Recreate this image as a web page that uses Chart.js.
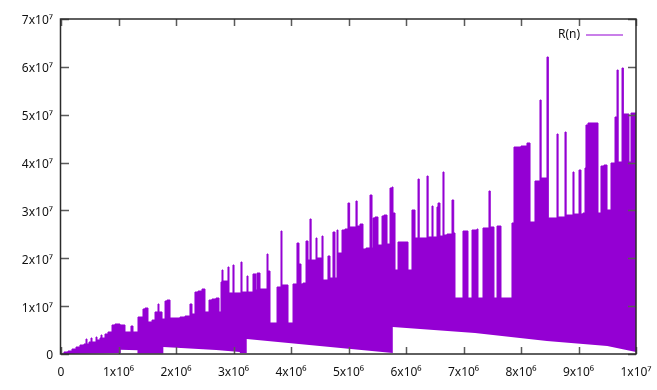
<!DOCTYPE html>
<html>
<head>
<meta charset="utf-8">
<script src="https://cdn.jsdelivr.net/npm/chart.js@4.4.1/dist/chart.umd.min.js"></script>
<style>
  html, body { margin: 0; padding: 0; background: #fff; }
  #wrap { width: 657px; height: 390px; }
</style>
</head>
<body>
<div id="wrap"><canvas id="chart"></canvas></div>
<script>
"use strict";

// values in millions: [n, R(n)]
const UNIT = 1e6;

// upper edge of the R(n) band (step holds until next n)
const upperEdge = [
    [0, 0], [0.052, 0.42], [0.122, 0.63], [0.191, 1.04], [0.261, 1.46], [0.330, 1.88],
    [0.400, 2.09], [0.435, 3.13], [0.452, 2.09], [0.487, 2.51], [0.522, 3.34], [0.539, 2.51],
    [0.609, 3.55], [0.626, 2.93], [0.678, 3.34], [0.696, 3.97], [0.713, 3.34], [0.765, 4.18],
    [0.817, 4.60], [0.887, 6.06], [0.939, 6.27], [1.026, 6.06], [1.113, 4.60], [1.217, 5.85],
    [1.252, 4.60], [1.339, 7.73], [1.426, 9.40], [1.461, 9.61], [1.513, 6.69], [1.583, 7.10],
    [1.635, 8.78], [1.687, 10.45], [1.704, 8.78], [1.757, 7.31], [1.809, 11.07], [1.843, 11.28],
    [1.896, 7.52], [2.070, 7.73], [2.157, 7.94], [2.243, 10.45], [2.278, 8.36], [2.330, 12.95],
    [2.383, 13.16], [2.452, 13.58], [2.504, 8.78], [2.574, 11.28], [2.626, 11.49], [2.696, 11.70],
    [2.748, 8.78], [2.783, 15.04], [2.800, 17.55], [2.817, 15.25], [2.904, 18.18], [2.922, 12.75],
    [2.991, 18.60], [3.009, 12.75], [3.130, 19.22], [3.148, 12.95], [3.235, 16.30], [3.252, 12.95],
    [3.339, 16.72], [3.391, 13.37], [3.409, 16.92], [3.461, 13.58], [3.583, 20.89], [3.600, 17.34],
    [3.635, 6.48], [3.757, 14.00], [3.826, 25.70], [3.843, 14.42], [3.948, 6.48], [4.035, 14.63],
    [4.104, 23.19], [4.139, 18.80], [4.174, 14.63], [4.209, 14.83], [4.261, 23.61], [4.296, 19.64],
    [4.330, 28.21], [4.350, 19.64], [4.435, 24.24], [4.452, 20.06], [4.539, 24.65], [4.557, 15.46],
    [4.643, 20.48], [4.678, 15.88], [4.730, 25.49], [4.765, 15.88], [4.800, 25.91], [4.817, 21.10],
    [4.887, 25.91], [4.939, 26.12], [4.991, 31.55], [5.020, 26.54], [5.130, 31.97], [5.150, 26.74],
    [5.200, 27.16], [5.252, 21.94], [5.304, 22.15], [5.374, 33.22], [5.409, 22.15], [5.426, 28.42],
    [5.461, 28.63], [5.513, 22.77], [5.583, 28.83], [5.617, 29.04], [5.670, 22.98], [5.722, 34.68],
    [5.757, 34.89], [5.774, 29.46], [5.809, 17.55], [5.861, 23.40], [6.035, 17.55], [6.104, 30.09],
    [6.157, 24.24], [6.209, 36.56], [6.230, 24.24], [6.365, 37.19], [6.385, 24.45], [6.452, 30.92],
    [6.470, 24.45], [6.539, 30.71], [6.557, 31.55], [6.591, 24.65], [6.643, 38.03], [6.661, 24.86],
    [6.713, 25.07], [6.800, 32.18], [6.830, 25.28], [6.852, 11.70], [6.991, 25.70], [7.078, 11.70],
    [7.148, 25.91], [7.235, 26.12], [7.252, 11.70], [7.339, 26.33], [7.443, 34.06], [7.465, 26.54],
    [7.530, 11.70], [7.583, 26.74], [7.652, 11.70], [7.843, 27.37], [7.878, 43.25], [8.000, 43.46],
    [8.104, 44.09], [8.157, 27.58], [8.243, 36.15], [8.330, 53.07], [8.350, 36.77], [8.452, 62.06],
    [8.475, 28.42], [8.626, 45.97], [8.645, 28.63], [8.765, 46.38], [8.785, 29.04], [8.904, 38.03],
    [8.922, 29.25], [9.009, 38.45], [9.043, 29.25], [9.078, 29.46], [9.113, 38.86], [9.130, 47.85],
    [9.165, 48.27], [9.339, 29.46], [9.391, 39.28], [9.443, 39.49], [9.496, 30.09], [9.565, 39.91],
    [9.635, 49.52], [9.670, 59.34], [9.690, 40.12], [9.757, 59.76], [9.780, 50.15], [9.878, 40.12],
    [9.913, 50.35], [10.0, 50.35]
];

// lower edge of the band
const lowerEdge = [
    [0, 0], [1.04, 0.2], [1.04, 0.9], [1.33, 0.8], [1.33, 0.1], [1.78, 0.1], [1.78, 1.46],
    [2.70, 0.84], [3.11, 0.42], [3.11, 0.2], [3.23, 0.2], [3.23, 3.13], [5.77, 0.2],
    [5.77, 5.64], [7.2, 4.4], [8.45, 2.72], [9.5, 1.67], [10, 0.42]
];

const xTicks = [0, 1e6, 2e6, 3e6, 4e6, 5e6, 6e6, 7e6, 8e6, 9e6, 1e7];
const yTicks = [0, 1e7, 2e7, 3e7, 4e7, 5e7, 6e7, 7e7];
const seriesLabel = "R(n)";

const PURPLE = "#9400d3";
const SUP = { "0": "⁰", "1": "¹", "2": "²", "3": "³", "4": "⁴", "5": "⁵", "6": "⁶", "7": "⁷", "8": "⁸", "9": "⁹" };

function sciLabel(v) {
    if (v === 0) return "0";
    const e = Math.floor(Math.log10(v) + 1e-9);
    const m = Math.round(v / Math.pow(10, e));
    return m + "x10" + String(e).split("").map(c => SUP[c]).join("");
}

const toPts = arr => arr.map(p => ({ x: p[0] * UNIT, y: p[1] * UNIT }));

// gnuplot style frame: border, inward ticks on all four sides, key at top right
const gnuplotFrame = {
    id: "gnuplotFrame",
    afterDatasetsDraw(chart) {
        const { ctx, chartArea: a, scales } = chart;
        ctx.save();
        ctx.strokeStyle = "#5a5a5a";
        ctx.lineWidth = 1.5;
        ctx.beginPath();
        xTicks.forEach(v => {
            const px = Math.round(scales.x.getPixelForValue(v)) + 0.5;
            ctx.moveTo(px, a.bottom); ctx.lineTo(px, a.bottom - 7);
            ctx.moveTo(px, a.top); ctx.lineTo(px, a.top + 7);
        });
        yTicks.forEach(v => {
            const py = Math.round(scales.y.getPixelForValue(v)) + 0.5;
            ctx.moveTo(a.left, py); ctx.lineTo(a.left + 8, py);
            ctx.moveTo(a.right, py); ctx.lineTo(a.right - 8, py);
        });
        ctx.stroke();

        ctx.strokeStyle = "#2b2b2b";
        ctx.lineWidth = 1.5;
        ctx.strokeRect(a.left - 0.5, a.top, a.right - a.left + 0.5, a.bottom - a.top);

        // key
        ctx.font = "12px 'Noto Sans', 'DejaVu Sans', sans-serif";
        ctx.fillStyle = "#111";
        ctx.textAlign = "right";
        ctx.textBaseline = "middle";
        ctx.fillText(seriesLabel, a.right - 56, a.top + 16);
        ctx.strokeStyle = "rgba(148,0,211,0.5)";
        ctx.lineWidth = 2;
        ctx.beginPath();
        ctx.moveTo(a.right - 50, a.top + 16);
        ctx.lineTo(a.right - 13, a.top + 16);
        ctx.stroke();
        ctx.restore();
    }
};

Chart.defaults.font.family = "'Noto Sans', 'DejaVu Sans', sans-serif";
Chart.defaults.font.size = 12;
Chart.defaults.color = "#111";

new Chart(document.getElementById("chart"), {
    type: "line",
    data: {
        datasets: [
            {
                label: "lower",
                data: toPts(lowerEdge),
                borderWidth: 0,
                pointRadius: 0,
                fill: false
            },
            {
                label: seriesLabel,
                data: toPts(upperEdge),
                stepped: true,
                borderColor: PURPLE,
                borderWidth: 1,
                backgroundColor: PURPLE,
                pointRadius: 0,
                fill: 0
            }
        ]
    },
    options: {
        responsive: true,
        maintainAspectRatio: false,
        animation: false,
        events: [],
        layout: { padding: { left: 0, top: 19, right: 21, bottom: 0 } },
        plugins: { legend: { display: false }, tooltip: { enabled: false } },
        scales: {
            x: {
                type: "linear",
                min: 0, max: 1e7,
                afterFit: s => { s.height = 36; s.paddingLeft = 0; s.paddingRight = 0; },
                afterBuildTicks: s => { s.ticks = xTicks.map(v => ({ value: v })); },
                grid: { display: false, drawTicks: false },
                border: { display: false },
                ticks: { padding: 11, maxRotation: 0, autoSkip: false, callback: v => sciLabel(v) }
            },
            y: {
                type: "linear",
                min: 0, max: 7e7,
                afterFit: s => { s.width = 61; s.paddingTop = 0; s.paddingBottom = 0; },
                afterBuildTicks: s => { s.ticks = yTicks.map(v => ({ value: v })); },
                grid: { display: false, drawTicks: false },
                border: { display: false },
                ticks: { padding: 8, labelOffset: 2, autoSkip: false, callback: v => sciLabel(v) }
            }
        }
    },
    plugins: [gnuplotFrame]
});
</script>
</body>
</html>
